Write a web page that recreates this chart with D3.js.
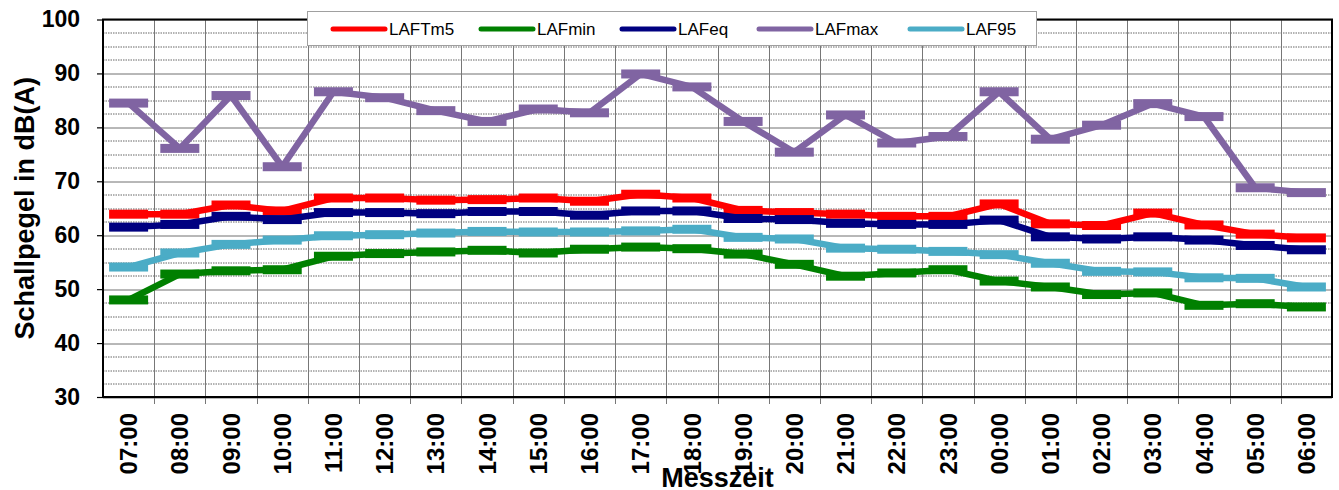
<!DOCTYPE html>
<html>
<head>
<meta charset="utf-8">
<script src="https://cdn.jsdelivr.net/npm/d3@7"></script>
<style>
  body { margin: 0; background: #fff; }
  svg { display: block; font-family: "Liberation Sans", Arial, sans-serif; }
  .ytick { font-size: 23px; font-weight: bold; }
  .xtick { font-size: 24px; font-weight: bold; }
  .xylabels { font-size: 27px; font-weight: bold; }
  .legend text { font-size: 17px; }
</style>
</head>
<body>
<script>

// categories
var times = ["07:00","08:00","09:00","10:00","11:00","12:00","13:00","14:00","15:00","16:00","17:00","18:00",
             "19:00","20:00","21:00","22:00","23:00","00:00","01:00","02:00","03:00","04:00","05:00","06:00"];

// series values, dB(A)
var lafTm5 = [63.9,63.9,65.6,64.5,66.9,66.9,66.5,66.6,66.9,66.3,67.6,66.9,64.6,64.2,63.9,63.5,63.5,65.8,62.1,61.8,64.1,61.9,60.2,59.5];
var lafMin = [48.0,52.8,53.4,53.6,56.1,56.6,56.9,57.2,56.7,57.4,57.8,57.5,56.5,54.6,52.4,53.0,53.6,51.5,50.4,49.0,49.3,47.0,47.3,46.7];
var lafEq  = [61.5,62.0,63.5,62.9,64.2,64.2,64.0,64.4,64.4,63.7,64.5,64.5,63.1,62.9,62.2,62.0,62.0,62.8,59.7,59.3,59.7,59.1,58.1,57.3];
var lafMax = [84.5,76.1,85.9,72.7,86.6,85.5,83.1,81.1,83.4,82.7,89.9,87.5,81.1,75.4,82.3,77.1,78.3,86.6,77.8,80.4,84.4,82.0,68.8,67.9];
var laf95  = [54.1,56.7,58.3,59.1,59.9,60.1,60.4,60.7,60.6,60.6,60.8,61.1,59.6,59.3,57.6,57.4,57.0,56.4,54.8,53.3,53.2,52.1,52.0,50.4];

var seriesNames = ["LAFTm5","LAFmin","LAFeq","LAFmax","LAF95"];
var seriesColors = ["#ff0000","#008000","#000080","#8064a2","#4bacc6"];
var seriesValues = [lafTm5, lafMin, lafEq, lafMax, laf95];

// y tick labels
var yTicks = [30,40,50,60,70,80,90,100];

//setting dimensions
var W = 1339, H = 490,
    margin = {top: 19.5, right: 7, bottom: 93, left: 103},
    width = W - margin.left - margin.right,
    height = H - margin.top - margin.bottom;

var x = d3.scaleBand().domain(times).range([0, width]).padding(0);
var y = d3.scaleLinear().domain([30, 100]).range([height, 0]);
var bw = x.bandwidth();

var svg = d3.select("body").append("svg")
    .attr("width", W)
    .attr("height", H)
  .append("g")
    .attr("transform", "translate(" + margin.left + "," + margin.top + ")");

// minor dotted gridlines every 2.5
svg.append("g").selectAll("line")
    .data(d3.range(32.5, 100, 2.5).filter(function(v) { return v % 10 !== 0; }))
  .enter().append("line")
    .attr("x1", 0).attr("x2", width)
    .attr("y1", function(d) { return Math.round(y(d)) + 0.5; })
    .attr("y2", function(d) { return Math.round(y(d)) + 0.5; })
    .attr("stroke", "#666")
    .attr("stroke-dasharray", "1.5,1");

// major gridlines
svg.append("g").selectAll("line")
    .data(yTicks)
  .enter().append("line")
    .attr("x1", 0).attr("x2", width)
    .attr("y1", function(d) { return Math.round(y(d)) + 0.5; })
    .attr("y2", function(d) { return Math.round(y(d)) + 0.5; })
    .attr("stroke", "#707070");

// vertical gridlines at category boundaries (extend down as tick marks)
svg.append("g").selectAll("line")
    .data(d3.range(1, times.length))
  .enter().append("line")
    .attr("x1", function(i) { return Math.round(i * bw) + 0.5; })
    .attr("x2", function(i) { return Math.round(i * bw) + 0.5; })
    .attr("y1", 0).attr("y2", height + 7)
    .attr("stroke", "#777");

// plot border
svg.append("rect")
    .attr("x", 0).attr("y", 0)
    .attr("width", width).attr("height", height)
    .attr("fill", "none")
    .attr("stroke", "#000")
    .attr("stroke-width", 2);

// Y axis
svg.append("g")
    .call(d3.axisLeft(y).tickValues(yTicks).tickSize(6).tickPadding(17))
    .call(function(g) { g.select(".domain").remove(); })
    .call(function(g) { g.selectAll(".tick line").attr("stroke", "#000").attr("stroke-width", 1.2); })
    .selectAll("text")
      .attr("class", "ytick")
      .attr("fill", "#000")
      .attr("font-family", null)
      .attr("font-size", null);

// X axis labels (rotated)
svg.append("g")
    .attr("transform", "translate(0," + height + ")")
    .call(d3.axisBottom(x).tickSize(0))
    .call(function(g) { g.select(".domain").remove(); })
    .selectAll("text")
      .attr("class", "xtick")
      .attr("fill", "#000")
      .attr("font-family", null)
      .attr("font-size", null)
      .style("text-anchor", "end")
      .attr("x", -16)
      .attr("y", 0)
      .attr("dy", "0.36em")
      .attr("transform", "rotate(-90)");

// series lines + dash markers
var line = d3.line()
    .x(function(d, i) { return x(times[i]) + bw / 2; })
    .y(function(d) { return y(d); });

seriesValues.forEach(function(vals, k) {
  var g = svg.append("g");
  g.append("path")
      .datum(vals)
      .attr("fill", "none")
      .attr("stroke", seriesColors[k])
      .attr("stroke-width", 6.5)
      .attr("stroke-linejoin", "round")
      .attr("d", line);
  g.selectAll("rect")
      .data(vals)
    .enter().append("rect")
      .attr("x", function(d, i) { return x(times[i]) + bw / 2 - 19.5; })
      .attr("y", function(d) { return y(d) - 4.5; })
      .attr("width", 39)
      .attr("height", 9)
      .attr("fill", seriesColors[k]);
});

// legend
var legendX = [230, 378, 519, 656, 807];
var legend = svg.append("g")
    .attr("class", "legend")
    .attr("transform", "translate(0," + (-margin.top) + ")");
legend.append("rect")
    .attr("x", 204.5).attr("y", 11.5)
    .attr("width", 729).attr("height", 34)
    .attr("fill", "#fff")
    .attr("stroke", "#a0a0a0");
seriesNames.forEach(function(name, k) {
  legend.append("line")
      .attr("x1", legendX[k]).attr("x2", legendX[k] + 52)
      .attr("y1", 29).attr("y2", 29)
      .attr("stroke", seriesColors[k])
      .attr("stroke-width", 5)
      .attr("stroke-linecap", "round");
  legend.append("text")
      .attr("x", legendX[k] + 56)
      .attr("y", 29)
      .attr("dy", "0.35em")
      .text(name);
});

// text label for the x axis
svg.append("text")
    .attr("x", width / 2)
    .attr("y", height + 89.5)
    .attr("class", "xylabels")
    .style("text-anchor", "middle")
    .text("Messzeit");

// text label for the y axis
svg.append("text")
    .attr("transform", "translate(" + (34 - margin.left) + "," + (height / 2) + ") rotate(-90)")
    .attr("class", "xylabels")
    .style("text-anchor", "middle")
    .text("Schallpegel in dB(A)");

</script>
</body>
</html>
